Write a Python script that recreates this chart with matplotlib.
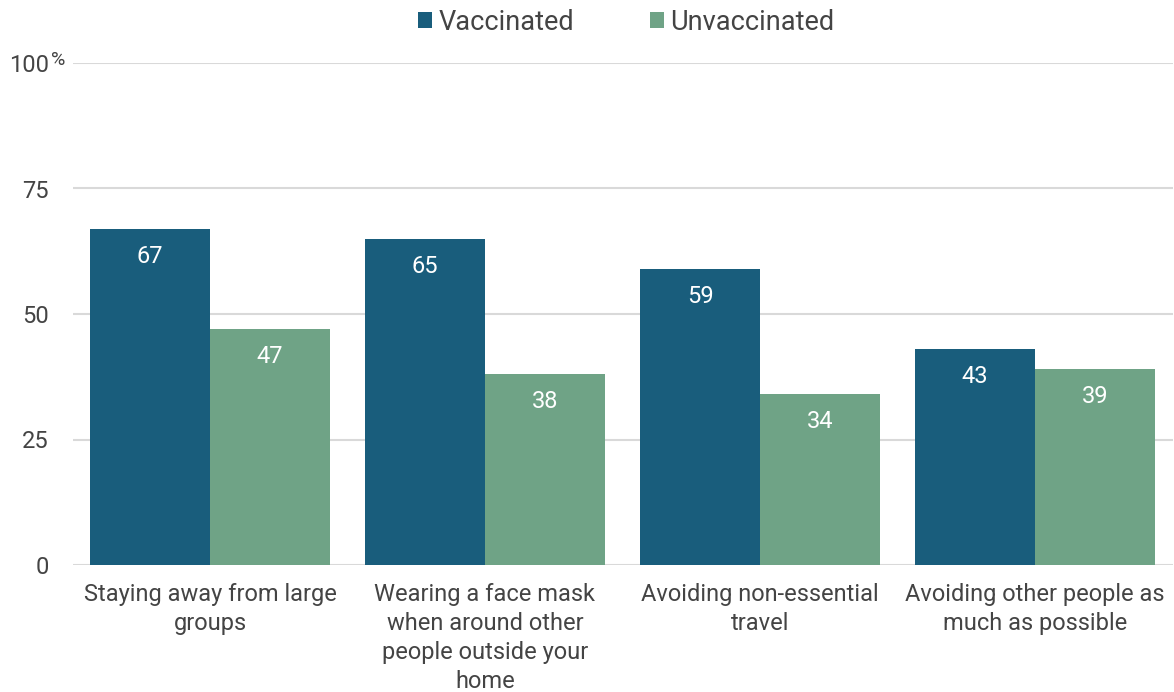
import matplotlib.pyplot as plt
import numpy as np

plt.rcParams['font.family'] = ['Roboto', 'DejaVu Sans']

categorias = ["Staying away from large\ngroups",
              "Wearing a face mask\nwhen around other\npeople outside your\nhome",
              "Avoiding non-essential\ntravel",
              "Avoiding other people as\nmuch as possible"]
vacunados = [67, 65, 59, 43]
no_vacunados = [47, 38, 34, 39]
series = ["Vaccinated", "Unvaccinated"]
ticks_y = [0, 25, 50, 75, 100]

c_vac = "#195d7c"
c_novac = "#6fa386"
gris = "#444444"

fig = plt.figure(figsize=(11.74, 6.92), dpi=100)
ax = fig.add_axes([72.5/1174, 1-565/692, 1100/1174, 502/692])

x = np.arange(len(categorias))
w = 120/275
b1 = ax.bar(x - w/2, vacunados, w, color=c_vac, label=series[0], zorder=3)
b2 = ax.bar(x + w/2, no_vacunados, w, color=c_novac, label=series[1], zorder=3)

for barras, vals in [(b1, vacunados), (b2, no_vacunados)]:
    for r, v in zip(barras, vals):
        ax.text(r.get_x() + r.get_width()/2, v - 5.5, str(v), ha="center", va="center",
                color="white", fontsize=17, zorder=4)

ax.set_xlim(-0.5, 3.5)
ax.set_ylim(0, 100)
ax.set_yticks(ticks_y)
ax.set_yticklabels([str(t) for t in ticks_y], fontsize=17, color=gris)
ax.tick_params(axis="y", length=0, pad=17)
ax.set_xticks(x)
ax.set_xticklabels(categorias, fontsize=17, color=gris, linespacing=1.34, va="top")
ax.tick_params(axis="x", length=0, pad=13)
ax.grid(axis="y", color="#d9d9d9", linewidth=1.5, zorder=0)
for s in ["top", "right", "left", "bottom"]:
    ax.spines[s].set_visible(False)

# simbolo de porcentaje pequeño
fig.text(51/1174, 1-60/692, "%", fontsize=14, color=gris, ha="left", va="center")

fig.legend(handles=[b1, b2], labels=series, loc="center", bbox_to_anchor=(626/1174, 1-22/692),
           ncol=2, frameon=False, fontsize=19.5, labelcolor=gris, handlelength=0.52,
           handleheight=0.52, handletextpad=0.22, columnspacing=2.8)

fig.savefig("out.png", dpi=100)
